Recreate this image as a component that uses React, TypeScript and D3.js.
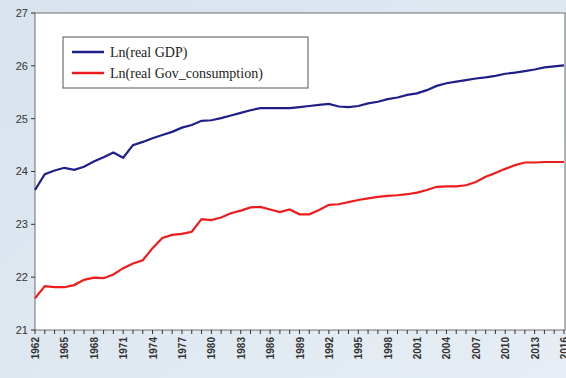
import React from "react";
import * as d3 from "d3";

const years: number[] = d3.range(1962, 2017);
const gdp: number[] = [
  23.65, 23.95, 24.02, 24.07, 24.03, 24.09, 24.19, 24.27, 24.36, 24.26,
  24.5, 24.56, 24.63, 24.69, 24.75, 24.83, 24.88, 24.96, 24.97, 25.01,
  25.06, 25.11, 25.16, 25.2, 25.2, 25.2, 25.2, 25.22, 25.24, 25.26,
  25.28, 25.23, 25.22, 25.24, 25.29, 25.32, 25.37, 25.4, 25.45, 25.48,
  25.54, 25.62, 25.67, 25.7, 25.73, 25.76, 25.78, 25.81, 25.85, 25.87,
  25.9, 25.93, 25.97, 25.99, 26.01,
];
const gov: number[] = [
  21.6, 21.83, 21.81, 21.81, 21.85, 21.95, 21.99, 21.98, 22.05, 22.17,
  22.26, 22.32, 22.55, 22.74, 22.8, 22.82, 22.86, 23.1, 23.08, 23.13,
  23.21, 23.26, 23.32, 23.33, 23.28, 23.23, 23.28, 23.19, 23.19, 23.27,
  23.37, 23.38, 23.42, 23.46, 23.49, 23.52, 23.54, 23.55, 23.57, 23.6,
  23.65, 23.71, 23.72, 23.72, 23.74, 23.8, 23.9, 23.97, 24.05, 24.12,
  24.17, 24.17, 24.18, 24.18, 24.18,
];
const yTicks: number[] = [21, 22, 23, 24, 25, 26, 27];
const xLabelYears: number[] = d3.range(1962, 2017, 3);
const seriesNames: string[] = ["Ln(real GDP)", "Ln(real Gov_consumption)"];
const seriesColors: string[] = ["#1f1f8a", "#ee1c1c"];

export default function App() {
  const W = 566, H = 378;
  const left = 35, right = 564, top = 13, bottom = 330;
  const x = d3.scaleLinear().domain([1962, 2016]).range([left, right]);
  const y = d3.scaleLinear().domain([21, 27]).range([bottom, top]);
  const line = d3
    .line<number>()
    .x((_, i) => x(years[i]))
    .y((d) => y(d));
  return (
    <svg
      width={W}
      height={H}
      style={{ position: "absolute", left: 0, top: 0 }}
      fontFamily="'Liberation Sans', Arial, sans-serif"
    >
      <defs>
        <linearGradient id="bg" x1="0" y1="0" x2="1" y2="1">
          <stop offset="0" stopColor="#d8e3ee" />
          <stop offset="1" stopColor="#e6edf4" />
        </linearGradient>
      </defs>
      <rect x={0} y={0} width={W} height={H} fill="url(#bg)" />
      <rect x={left} y={top} width={right - left + 1} height={bottom - top} fill="#ffffff" stroke="#6e6e6e" strokeWidth={1} />
      {yTicks.map((t) => (
        <g key={t}>
          <line x1={left - 4} x2={left} y1={y(t)} y2={y(t)} stroke="#333" />
          <text x={left - 7} y={y(t)} dy="0.35em" textAnchor="end" fontSize={11} fill="#333">
            {t}
          </text>
        </g>
      ))}
      {years.map((yr) => (
        <line key={yr} x1={x(yr)} x2={x(yr)} y1={bottom} y2={bottom + 4} stroke="#333" />
      ))}
      {xLabelYears.map((yr) => (
        <text
          key={yr}
          transform={`translate(${x(yr) + 4},${bottom + 7}) rotate(-90)`}
          textAnchor="end"
          fontSize={10}
          fontWeight="bold"
          fill="#333"
        >
          {yr}
        </text>
      ))}
      <path d={line(gdp) || ""} fill="none" stroke={seriesColors[0]} strokeWidth={2.2} />
      <path d={line(gov) || ""} fill="none" stroke={seriesColors[1]} strokeWidth={2.2} />
      <rect x={63} y={37} width={245} height={51} fill="#fff" stroke="#555" strokeWidth={1} />
      {seriesNames.map((n, i) => (
        <g key={n}>
          <line x1={72} x2={104} y1={52 + i * 21} y2={52 + i * 21} stroke={seriesColors[i]} strokeWidth={2.5} />
          <text x={110} y={52 + i * 21} dy="0.35em" fontSize={14} fontFamily="'Liberation Serif', 'Times New Roman', serif" fill="#222">
            {n}
          </text>
        </g>
      ))}
    </svg>
  );
}
